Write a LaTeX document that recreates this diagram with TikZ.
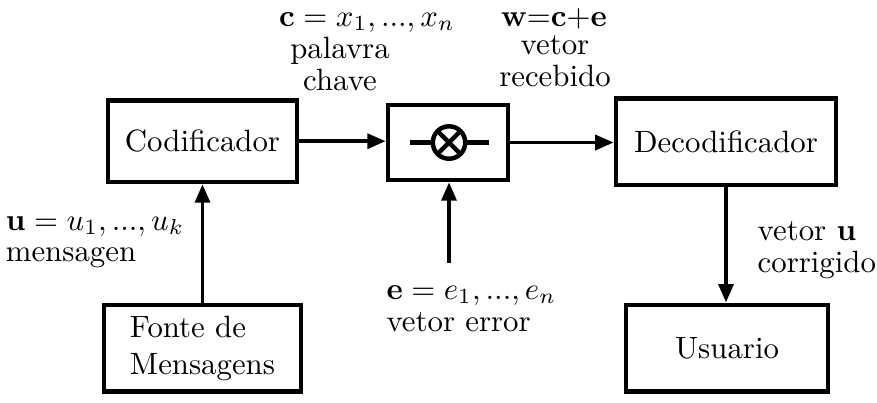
\documentclass[tikz,border=0pt]{standalone}
\usetikzlibrary{arrows.meta}

\begin{document}
\begin{tikzpicture}[
    bloco/.style={draw, line width=1.45pt, inner sep=0pt},
    seta/.style={line width=1.25pt, -{Triangle[length=6pt,width=4.8pt]}},
    rotulo/.style={inner sep=0pt, font=\fontsize{10pt}{10.3pt}\selectfont}
  ]
    \useasboundingbox (0,0) rectangle (10,-4.595);

    % Blocos principais
    \node[bloco, minimum width=2.155cm, minimum height=0.93cm] (cod) at (2.309,-1.61) {Codificador};
    \node[bloco, minimum width=1.368cm, minimum height=0.855cm] (mix) at (5.108,-1.625) {};
    \node[bloco, minimum width=2.509cm, minimum height=0.985cm] (dec) at (8.278,-1.615) {Decodificador};
    \node[bloco, minimum width=2.246cm, minimum height=0.99cm, align=left] (fonte) at (2.309,-3.97) {Fonte de\\Mensagens};
    \node[bloco, minimum width=2.303cm, minimum height=0.99cm] (usu) at (8.290,-3.97) {Usuario};

    % Somador (circulo com x)
    \coordinate (soma) at (5.120,-1.625);
    \draw[line width=1.45pt] ([xshift=-0.45cm]soma) -- ([xshift=0.45cm]soma);
    \draw[line width=1.45pt, fill=white] (soma) circle (0.185);
    \draw[line width=1.45pt] (soma) ++(45:0.185) -- ++(225:0.37);
    \draw[line width=1.45pt] (soma) ++(135:0.185) -- ++(315:0.37);

    % Conexoes
    \coordinate (erro) at (5.120,-3.0);
    \draw[seta] (cod.east) -- (cod.east -| mix.west);
    \draw[seta] (mix.east) -- (mix.east -| dec.west);
    \draw[seta] (fonte.north) -- (fonte.north |- cod.south);
    \draw[seta] (erro) -- (erro |- mix.south);
    \draw[seta] (dec.south) -- (dec.south |- usu.north);

    % Rotulos
    \node[rotulo, anchor=base] (lc) at (4.185,-0.30) {$\mathbf{c} = x_1, ..., x_n$};
    \node[rotulo, anchor=north, align=center] (lpal) at (3.877,-0.42) {palavra\\chave};
    \node[rotulo, anchor=base] (lw) at (6.317,-0.30) {\textbf{w}=\textbf{c}+\textbf{e}};
    \node[rotulo, anchor=north, align=center] (lrec) at (6.328,-0.40) {vetor\\recebido};
    \node[rotulo, anchor=north west, align=left] (lu) at (0.06,-2.46) {$\mathbf{u} = u_1, ..., u_k$\\mensagen};
    \node[rotulo, anchor=north west, align=left] (le) at (4.40,-3.25) {$\mathbf{e} = e_1, ..., e_n$\\vetor error};
    \node[rotulo, anchor=north west, align=left] (lv) at (8.632,-2.52) {vetor \textbf{u}\\corrigido};
\end{tikzpicture}
\end{document}
